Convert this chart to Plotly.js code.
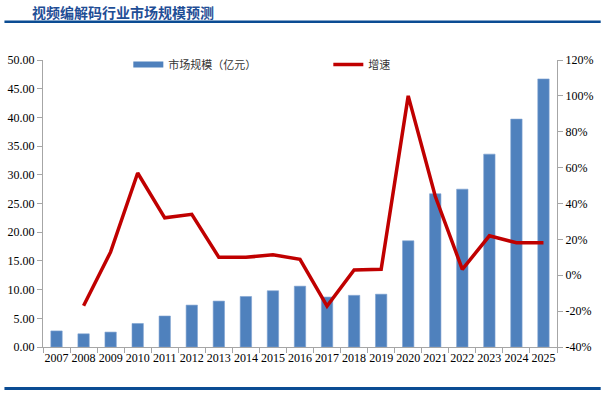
<!DOCTYPE html>
<html>
<head>
<meta charset="utf-8">
<script src="https://cdn.plot.ly/plotly-3.0.1.min.js"></script>
<style>html,body{margin:0;padding:0;background:#fff;}#chart{width:605px;height:394px;}</style>
</head>
<body>
<div id="chart"></div>
<script>
var years = ['2007','2008','2009','2010','2011','2012','2013','2014','2015','2016','2017','2018','2019','2020','2021','2022','2023','2024','2025'];
var marketSize = [2.8, 2.3, 2.6, 4.1, 5.4, 7.3, 8.0, 8.8, 9.8, 10.6, 8.7, 9.0, 9.2, 18.5, 26.7, 27.5, 33.6, 39.7, 46.7];
var growth = [null, -17, 13, 57, 32, 34, 10, 10, 11.4, 8.9, -17.2, 2.9, 3.3, 100, 44, 3.3, 22, 18.1, 18.1];
var leftTicks = [0,5,10,15,20,25,30,35,40,45,50];
var leftTickText = leftTicks.map(function(v){return v.toFixed(2);});
var rightTicks = [-40,-20,0,20,40,60,80,100,120];
var rightTickText = rightTicks.map(function(v){return v + '%';});

var serif = 'Liberation Serif, Times New Roman, serif';
var cjk = 'Noto Sans CJK SC, sans-serif';

var traces = [
  {type:'bar', x:years, y:marketSize, marker:{color:'#4F81BD', line:{color:'#7FA3D1', width:0.6}}, width:0.42, showlegend:false, hoverinfo:'skip'},
  {type:'scatter', mode:'lines', x:[null], y:[null], name:'市场规模（亿元）', line:{color:'#4F81BD', width:6}, showlegend:true},
  {type:'scatter', mode:'lines', x:years, y:growth, yaxis:'y2', name:'增速', line:{color:'#C00000', width:3.5}, connectgaps:false, showlegend:true}
];

var layout = {
  width:605, height:394,
  margin:{l:43, r:48, t:60, b:47},
  paper_bgcolor:'#fff', plot_bgcolor:'#fff',
  showlegend:true,
  legend:{orientation:'h', x:0.166, xanchor:'left', y:1.035, yanchor:'top', font:{family:cjk, size:11, color:'#333'}, entrywidth:155, entrywidthmode:'pixels', bgcolor:'rgba(0,0,0,0)', itemwidth:30, tracegroupgap:0},
  xaxis:{type:'category', range:[-0.5,18.5], showline:true, linecolor:'#A6A6A6', linewidth:1, ticks:'outside', tickson:'boundaries', ticklen:5, tickcolor:'#A6A6A6', tickangle:0, tickfont:{family:serif, size:12, color:'#000'}, showgrid:false, zeroline:false, fixedrange:true},
  yaxis:{range:[0,50], tickvals:leftTicks, ticktext:leftTickText, showline:true, linecolor:'#A6A6A6', linewidth:1, ticks:'outside', ticklen:5, tickcolor:'#A6A6A6', tickfont:{family:serif, size:12, color:'#000'}, showgrid:false, zeroline:false},
  yaxis2:{overlaying:'y', side:'right', range:[-40,120], tickvals:rightTicks, ticktext:rightTickText, showline:true, linecolor:'#A6A6A6', linewidth:1, ticks:'outside', ticklen:5, tickcolor:'#A6A6A6', tickfont:{family:serif, size:12, color:'#000'}, showgrid:false, zeroline:false},
  annotations:[
    {text:'<b>视频编解码行业市场规模预测</b>', xref:'paper', yref:'paper', x:-0.026, y:1.167, xanchor:'left', yanchor:'middle', showarrow:false, font:{family:'Noto Sans CJK SC, sans-serif', size:14, color:'#1F4E96'}}
  ],
  shapes:[
    {type:'line', xref:'paper', yref:'paper', x0:-0.075, x1:1.085, y0:1.133, y1:1.133, line:{color:'#0B4C93', width:2.5}},
    {type:'line', xref:'paper', yref:'paper', x0:-0.075, x1:1.085, y0:-0.145, y1:-0.145, line:{color:'#0B4C93', width:3}}
  ]
};

Plotly.newPlot('chart', traces, layout, {displayModeBar:false, staticPlot:true});
</script>
</body>
</html>
